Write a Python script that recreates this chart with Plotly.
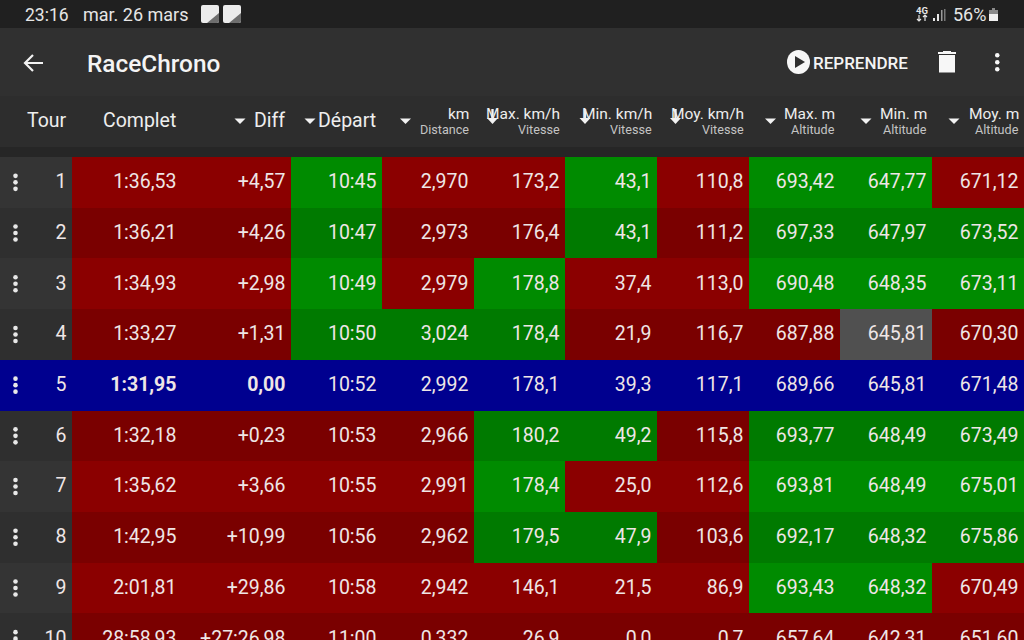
import plotly.graph_objects as go

# table content
tours = ["1", "2", "3", "4", "5", "6", "7", "8", "9", "10"]
complet = ["1:36,53", "1:36,21", "1:34,93", "1:33,27", "1:31,95", "1:32,18", "1:35,62", "1:42,95", "2:01,81", "28:58,93"]
diff = ["+4,57", "+4,26", "+2,98", "+1,31", "0,00", "+0,23", "+3,66", "+10,99", "+29,86", "+27:26,98"]
depart = ["10:45", "10:47", "10:49", "10:50", "10:52", "10:53", "10:55", "10:56", "10:58", "11:00"]
distance = ["2,970", "2,973", "2,979", "3,024", "2,992", "2,966", "2,991", "2,962", "2,942", "0,332"]
max_kmh = ["173,2", "176,4", "178,8", "178,4", "178,1", "180,2", "178,4", "179,5", "146,1", "26,9"]
min_kmh = ["43,1", "43,1", "37,4", "21,9", "39,3", "49,2", "25,0", "47,9", "21,5", "0,0"]
moy_kmh = ["110,8", "111,2", "113,0", "116,7", "117,1", "115,8", "112,6", "103,6", "86,9", "0,7"]
max_m = ["693,42", "697,33", "690,48", "687,88", "689,66", "693,77", "693,81", "692,17", "693,43", "657,64"]
min_m = ["647,77", "647,97", "648,35", "645,81", "645,81", "648,49", "648,49", "648,32", "648,32", "642,31"]
moy_m = ["671,12", "673,52", "673,11", "670,30", "671,48", "673,49", "675,01", "675,86", "670,49", "651,60"]

# cell state per row: R worse, G better, B best lap, N equal
cell_states = [
    "RRGRRGRGGR",
    "RRGRRGRGGG",
    "RRGRGRRGGG",
    "RRGGGRRRNR",
    "BBBBBBBBBB",
    "RRRRGGRGGG",
    "RRRRGRRGGG",
    "RRRRGGRGGG",
    "RRRRRRRGGR",
    "RRRRRRRRRR",
]

columns = [complet, diff, depart, distance, max_kmh, min_kmh, moy_kmh, max_m, min_m, moy_m]
header_big = ["Complet", "Diff", "Départ"]
header_two = [("km", "Distance"), ("Max. km/h", "Vitesse"), ("Min. km/h", "Vitesse"), ("Moy. km/h", "Vitesse"),
              ("Max. m", "Altitude"), ("Min. m", "Altitude"), ("Moy. m", "Altitude")]

# layout in screen pixels
col_edges = [0, 72, 182, 291, 382, 474, 565, 657, 749, 840, 932, 1024]
row_top = 157
row_h = 50.7
pad = 5.5
TEXT = "#efe6e6"

# odd rows are brighter than even rows in the app
codes = {"T": 0, "R": 2, "G": 4, "B": 6, "N": 7}
colors = ["#343434", "#2f2f2f", "#8b0000", "#7a0000", "#008b00", "#007a00", "#00008f", "#505050"]
n = len(colors)
colorscale = []
for i, c in enumerate(colors):
    colorscale.append([i / n, c])
    colorscale.append([(i + 1) / n, c])

z = []
for r, states in enumerate(cell_states):
    # the best lap row is blue right up to the left edge
    first = "B" if states[0] == "B" else "T"
    row = []
    for s in first + states:
        code = codes[s]
        if s in "TRG" and r % 2 == 1:
            code += 1
        row.append(code + 0.5)
    z.append(row)

row_edges = [row_top + i * row_h for i in range(len(tours) + 1)]
row_mid = [row_top + (i + 0.5) * row_h for i in range(len(tours))]
text_y = [y + 1 for y in row_mid]

fig = go.Figure()
fig.add_trace(go.Heatmap(
    x=col_edges, y=row_edges, z=z, zmin=0, zmax=n,
    colorscale=colorscale, showscale=False, hoverinfo="skip",
))

# row menu dots
dot_y = []
for y in row_mid:
    dot_y += [y - 6.5, y, y + 6.5]
fig.add_trace(go.Scatter(
    x=[15.5] * len(dot_y), y=dot_y, mode="markers",
    marker=dict(size=4.6, color="#e8e8e8"), hoverinfo="skip",
))

# lap numbers
fig.add_trace(go.Scatter(
    x=[66.5] * len(tours), y=text_y, mode="text", text=tours, textposition="middle left",
    textfont=dict(family="Roboto", size=19.5, color=TEXT), hoverinfo="skip",
))

for i, values in enumerate(columns):
    # best lap is bold in the first two columns only
    weights = [700 if (v == "B" and i < 2) else 400 for v in [s[i] for s in cell_states]]
    fig.add_trace(go.Scatter(
        x=[col_edges[i + 2] - pad] * len(values), y=text_y, mode="text", text=values,
        textposition="middle left",
        textfont=dict(family="Roboto", size=19.5, color=TEXT, weight=weights),
        hoverinfo="skip",
    ))

shapes = [
    dict(type="rect", x0=0, x1=1024, y0=0, y1=28, fillcolor="#202020", line_width=0),
    dict(type="rect", x0=0, x1=1024, y0=28, y1=96, fillcolor="#303030", line_width=0),
    dict(type="rect", x0=0, x1=1024, y0=96, y1=147, fillcolor="#2d2d2d", line_width=0),
    dict(type="rect", x0=0, x1=1024, y0=147, y1=157, fillcolor="#262626", line_width=0),
    # status bar notification icons
    dict(type="path", path="M203 5H217Q219 5 219 7V21Q219 23 217 23H203Q201 23 201 21V7Q201 5 203 5Z", fillcolor="#ececec", line_width=0),
    dict(type="path", path="M219 13V21Q219 23 217 23H207Z", fillcolor="#6e6e6e", line_width=0),
    dict(type="path", path="M225 5H239Q241 5 241 7V21Q241 23 239 23H225Q223 23 223 21V7Q223 5 225 5Z", fillcolor="#ececec", line_width=0),
    dict(type="path", path="M241 13V21Q241 23 239 23H229Z", fillcolor="#6e6e6e", line_width=0),
    # signal bars
    dict(type="rect", x0=933, x1=935, y0=18, y1=21, fillcolor="#e8e8e8", line_width=0),
    dict(type="rect", x0=937, x1=939, y0=14, y1=21, fillcolor="#e8e8e8", line_width=0),
    dict(type="rect", x0=941, x1=942.5, y0=10, y1=21, fillcolor="#9a9a9a", line_width=0),
    dict(type="rect", x0=944, x1=945.5, y0=9, y1=21, fillcolor="#777777", line_width=0),
    # battery, charge level in white over the dim shell
    dict(type="path", path="M992 8H995V10H998V21H989V10H992Z", fillcolor="#8a8a8a", line_width=0),
    dict(type="rect", x0=989, x1=998, y0=14, y1=21, fillcolor="#f0f0f0", line_width=0),
    # back arrow
    dict(type="path", path="M43 63H26M33 55L25 63L33 71", line=dict(color="#f2f2f2", width=2.2)),
    # play button
    dict(type="circle", x0=787, x1=810, y0=50, y1=74, fillcolor="#f7f7f7", line_width=0),
    dict(type="path", path="M795 56L805 62L795 68Z", fillcolor="#303030", line_width=0),
    # trash can
    dict(type="path", path="M939 55H955V72.5H939Z", fillcolor="#f7f7f7", line_width=0),
    dict(type="path", path="M938 52H943V51H951V52H956V54H938Z", fillcolor="#f7f7f7", line_width=0),
    # overflow menu
    dict(type="circle", x0=995, x1=999.5, y0=53, y1=57.5, fillcolor="#f7f7f7", line_width=0),
    dict(type="circle", x0=995, x1=999.5, y0=60, y1=64.5, fillcolor="#f7f7f7", line_width=0),
    dict(type="circle", x0=995, x1=999.5, y0=67, y1=71.5, fillcolor="#f7f7f7", line_width=0),
    # network arrows under the 4G label
    dict(type="path", path="M919 15V21M917 19L919 21L921 19M925 21V15M923 17L925 15L927 17",
         line=dict(color="#e6e6e6", width=1.2)),
]

# sort markers in the header
for x in [240, 310, 405.5, 770.5, 866, 954]:
    shapes.append(dict(type="path", path=f"M{x-5.5} 118.5H{x+5.5}L{x} 124Z", fillcolor="#f2f2f2", line_width=0))
for x in [492.5, 585, 675.5]:
    shapes.append(dict(type="path", path=f"M{x-5.5} 118H{x+5.5}L{x} 124Z", fillcolor="#f2f2f2", line_width=0))
    shapes.append(dict(type="rect", x0=x - 1.2, x1=x + 1.2, y0=109, y1=119, fillcolor="#f2f2f2", line_width=0))


def label(x, y, text, size, anchor="right", color="#eeeeee", weight=400):
    return dict(
        x=x, y=y, text=text, xref="x", yref="y", xanchor=anchor, yanchor="middle", showarrow=False,
        font=dict(family="Roboto", size=size, color=color, weight=weight),
    )


annotations = [
    label(23, 14.5, "23:16", 17.5, "left", "#e6e6e6"),
    label(81, 14.5, "mar. 26 mars", 18, "left", "#e6e6e6"),
    label(951, 14.5, "56%", 18, "left", "#e6e6e6"),
    label(922, 10, "4G", 9.5, "center", "#e6e6e6", 700),
    label(84.5, 63, "RaceChrono", 24.4, "left", "#f4f4f4", 500),
    label(811, 63, "REPRENDRE", 17, "left", "#f4f4f4", 500),
    label(47, 120.5, "Tour", 19.5, "center"),
]
for i, text in enumerate(header_big):
    annotations.append(label(col_edges[i + 2] - 4.5, 120.5, text, 19.5))
for i, (top, sub) in enumerate(header_two):
    annotations.append(label(col_edges[i + 5] - 3.5, 114, top, 15.5))
    annotations.append(label(col_edges[i + 5] - 3.5, 129.5, sub, 12.6, color="#c4c4c4"))

fig.update_layout(
    width=1024, height=640,
    margin=dict(l=0, r=0, t=0, b=0),
    paper_bgcolor="#2e2e2e", plot_bgcolor="#2e2e2e",
    showlegend=False,
    xaxis=dict(range=[0, 1024], visible=False, fixedrange=True),
    yaxis=dict(range=[640, 0], visible=False, fixedrange=True),
    shapes=shapes,
    annotations=annotations,
)

fig.write_html(
    "out.html",
    config=dict(displayModeBar=False),
    post_script="document.body.style.margin='0';document.body.style.overflow='hidden';",
)
